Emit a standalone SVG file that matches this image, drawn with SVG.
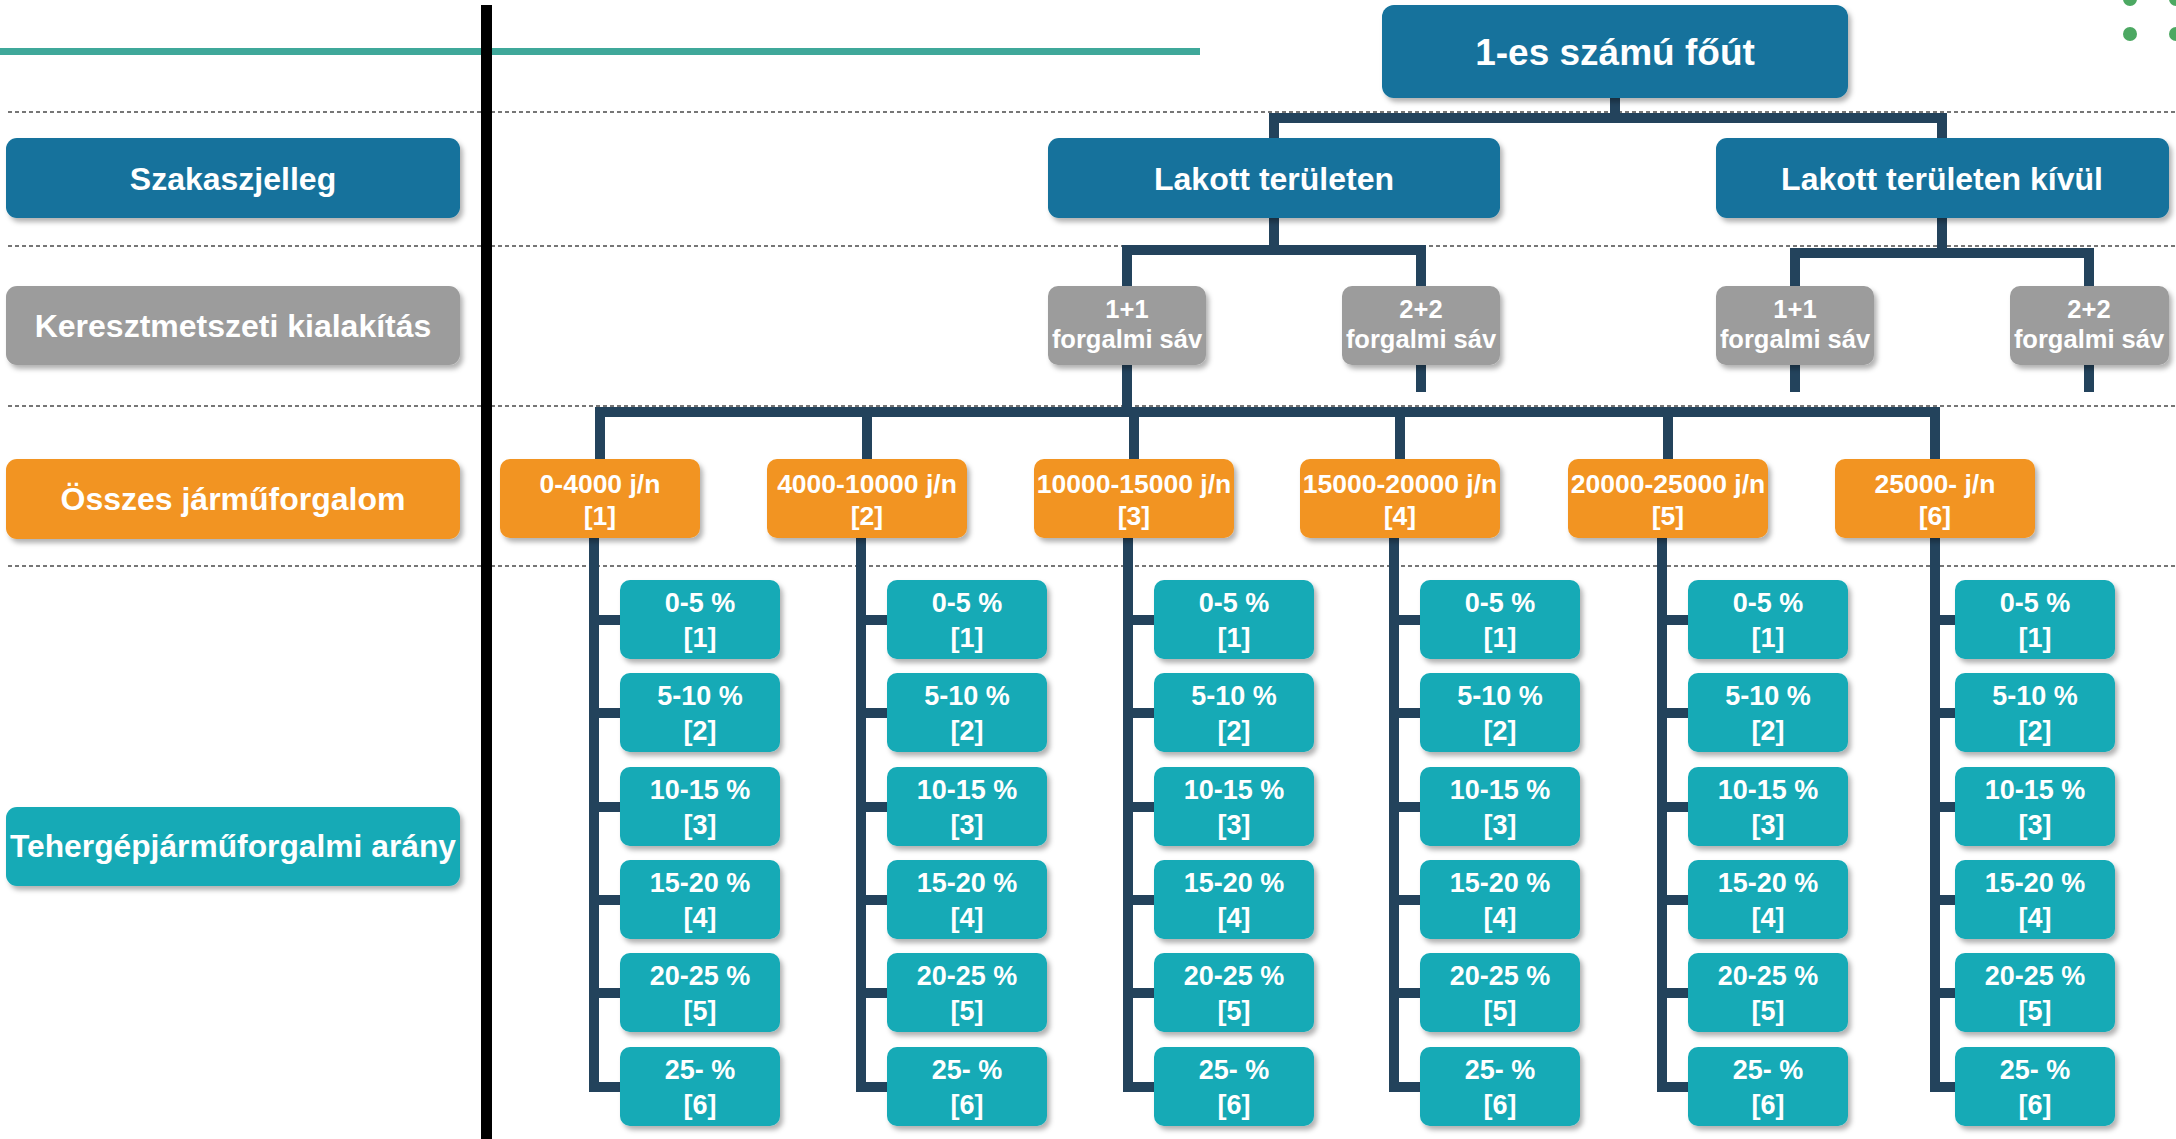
<svg xmlns="http://www.w3.org/2000/svg" width="2176" height="1139" viewBox="0 0 2176 1139">
<style>
.bg{fill:#ffffff}
.dash{stroke:#4a4a4a;stroke-width:1.5;stroke-dasharray:4 3;fill:none}
.conn{stroke:#23435C;stroke-width:10;fill:none;stroke-linecap:butt;stroke-linejoin:miter}
.blue{fill:#12729C;filter:url(#sh)}
.gray{fill:#9C9C9C;filter:url(#sh)}
.orange{fill:#F29420;filter:url(#sh)}
.teal{fill:#14AAB6;filter:url(#sh)}
text{font-family:"Liberation Sans",Arial,sans-serif;font-weight:bold;fill:#ffffff;text-anchor:middle}
.lbl{font-size:32px}
.top{font-size:37px}
.g{font-size:25.5px}
.o{font-size:26.5px}
.t{font-size:27px}
.dot{fill:#4CA862}
</style>
<defs>
<filter id="sh" x="-10%" y="-20%" width="125%" height="150%">
<feDropShadow dx="3" dy="4" stdDeviation="2.5" flood-color="#000" flood-opacity="0.3"/>
</filter>
</defs>
<rect class="bg" x="0" y="0" width="2176" height="1139"/>
<g id="decor">
<line class="dash" x1="8" y1="112" x2="2176" y2="112"/>
<line class="dash" x1="8" y1="246" x2="2176" y2="246"/>
<line class="dash" x1="8" y1="406" x2="2176" y2="406"/>
<line class="dash" x1="8" y1="566" x2="2176" y2="566"/>
<rect x="0" y="48" width="1200" height="7" fill="#3FA89A"/>
<rect x="481" y="5" width="11" height="1134" fill="#000000"/>
<circle class="dot" cx="2130" cy="-1" r="7"/>
<circle class="dot" cx="2176" cy="-1" r="7"/>
<circle class="dot" cx="2130" cy="34" r="7"/>
<circle class="dot" cx="2176" cy="34" r="7"/>
</g>
<g id="connectors">
<path class="conn" d="M1615 98 V118"/>
<path class="conn" d="M1274 138 V118 H1942 V138"/>
<path class="conn" d="M1274 218 V250"/>
<path class="conn" d="M1127 286 V250 H1421 V286"/>
<path class="conn" d="M1942 218 V253"/>
<path class="conn" d="M1795 286 V253 H2089 V286"/>
<path class="conn" d="M1421 365 V392 M1795 365 V392 M2089 365 V392"/>
<path class="conn" d="M1127 365 V412"/>
<path class="conn" d="M595 412 H1940"/>
<path class="conn" d="M600 412 V459 M867 412 V459 M1134 412 V459 M1400 412 V459 M1668 412 V459 M1935 412 V459"/>
<path class="conn" d="M594 538 V1087 H620 M594 620 H620 M594 713 H620 M594 807 H620 M594 900 H620 M594 993 H620"/>
<path class="conn" d="M861 538 V1087 H887 M861 620 H887 M861 713 H887 M861 807 H887 M861 900 H887 M861 993 H887"/>
<path class="conn" d="M1128 538 V1087 H1154 M1128 620 H1154 M1128 713 H1154 M1128 807 H1154 M1128 900 H1154 M1128 993 H1154"/>
<path class="conn" d="M1394 538 V1087 H1420 M1394 620 H1420 M1394 713 H1420 M1394 807 H1420 M1394 900 H1420 M1394 993 H1420"/>
<path class="conn" d="M1662 538 V1087 H1688 M1662 620 H1688 M1662 713 H1688 M1662 807 H1688 M1662 900 H1688 M1662 993 H1688"/>
<path class="conn" d="M1935 538 V1087 H1955 M1935 620 H1955 M1935 713 H1955 M1935 807 H1955 M1935 900 H1955 M1935 993 H1955"/>
</g>
<g id="legend-szakasz"><rect class="blue" x="6" y="138" width="454" height="80" rx="11"/><text class="lbl" x="233" y="190">Szakaszjelleg</text></g>
<g id="legend-kereszt"><rect class="gray" x="6" y="286" width="454" height="79" rx="11"/><text class="lbl" x="233" y="337">Keresztmetszeti kialakítás</text></g>
<g id="legend-osszes"><rect class="orange" x="6" y="459" width="454" height="80" rx="11"/><text class="lbl" x="233" y="510">Összes járműforgalom</text></g>
<g id="legend-teher"><rect class="teal" x="6" y="807" width="454" height="79" rx="11"/><text class="lbl" x="233" y="857" textLength="446" lengthAdjust="spacingAndGlyphs">Tehergépjárműforgalmi arány</text></g>
<g id="root"><rect class="blue" x="1382" y="5" width="466" height="93" rx="12"/><text class="top" x="1615" y="65">1-es számú főút</text></g>
<g id="lakott"><rect class="blue" x="1048" y="138" width="452" height="80" rx="11"/><text class="lbl" x="1274" y="190">Lakott területen</text></g>
<g id="kivul"><rect class="blue" x="1716" y="138" width="453" height="80" rx="11"/><text class="lbl" x="1942" y="190">Lakott területen kívül</text></g>
<g id="lakott-11"><rect class="gray" x="1048" y="286" width="158" height="79" rx="10"/><text class="g" x="1127" y="318">1+1</text><text class="g" x="1127" y="348">forgalmi sáv</text></g>
<g id="lakott-22"><rect class="gray" x="1342" y="286" width="158" height="79" rx="10"/><text class="g" x="1421" y="318">2+2</text><text class="g" x="1421" y="348">forgalmi sáv</text></g>
<g id="kivul-11"><rect class="gray" x="1716" y="286" width="158" height="79" rx="10"/><text class="g" x="1795" y="318">1+1</text><text class="g" x="1795" y="348">forgalmi sáv</text></g>
<g id="kivul-22"><rect class="gray" x="2010" y="286" width="159" height="79" rx="10"/><text class="g" x="2089" y="318">2+2</text><text class="g" x="2089" y="348">forgalmi sáv</text></g>
<g id="o1"><rect class="orange" x="500" y="459" width="200" height="79" rx="10"/><text class="o" x="600" y="493">0-4000 j/n</text><text class="o" x="600" y="525">[1]</text></g>
<g id="o2"><rect class="orange" x="767" y="459" width="200" height="79" rx="10"/><text class="o" x="867" y="493">4000-10000 j/n</text><text class="o" x="867" y="525">[2]</text></g>
<g id="o3"><rect class="orange" x="1034" y="459" width="200" height="79" rx="10"/><text class="o" x="1134" y="493">10000-15000 j/n</text><text class="o" x="1134" y="525">[3]</text></g>
<g id="o4"><rect class="orange" x="1300" y="459" width="200" height="79" rx="10"/><text class="o" x="1400" y="493">15000-20000 j/n</text><text class="o" x="1400" y="525">[4]</text></g>
<g id="o5"><rect class="orange" x="1568" y="459" width="200" height="79" rx="10"/><text class="o" x="1668" y="493">20000-25000 j/n</text><text class="o" x="1668" y="525">[5]</text></g>
<g id="o6"><rect class="orange" x="1835" y="459" width="200" height="79" rx="10"/><text class="o" x="1935" y="493">25000- j/n</text><text class="o" x="1935" y="525">[6]</text></g>
<g id="c1">
<g id="c1-1"><rect class="teal" x="620" y="580" width="160" height="79" rx="10"/><text class="t" x="700" y="612">0-5 %</text><text class="t" x="700" y="647">[1]</text></g>
<g id="c1-2"><rect class="teal" x="620" y="673" width="160" height="79" rx="10"/><text class="t" x="700" y="705">5-10 %</text><text class="t" x="700" y="740">[2]</text></g>
<g id="c1-3"><rect class="teal" x="620" y="767" width="160" height="79" rx="10"/><text class="t" x="700" y="799">10-15 %</text><text class="t" x="700" y="834">[3]</text></g>
<g id="c1-4"><rect class="teal" x="620" y="860" width="160" height="79" rx="10"/><text class="t" x="700" y="892">15-20 %</text><text class="t" x="700" y="927">[4]</text></g>
<g id="c1-5"><rect class="teal" x="620" y="953" width="160" height="79" rx="10"/><text class="t" x="700" y="985">20-25 %</text><text class="t" x="700" y="1020">[5]</text></g>
<g id="c1-6"><rect class="teal" x="620" y="1047" width="160" height="79" rx="10"/><text class="t" x="700" y="1079">25- %</text><text class="t" x="700" y="1114">[6]</text></g>
</g>
<g id="c2">
<g id="c2-1"><rect class="teal" x="887" y="580" width="160" height="79" rx="10"/><text class="t" x="967" y="612">0-5 %</text><text class="t" x="967" y="647">[1]</text></g>
<g id="c2-2"><rect class="teal" x="887" y="673" width="160" height="79" rx="10"/><text class="t" x="967" y="705">5-10 %</text><text class="t" x="967" y="740">[2]</text></g>
<g id="c2-3"><rect class="teal" x="887" y="767" width="160" height="79" rx="10"/><text class="t" x="967" y="799">10-15 %</text><text class="t" x="967" y="834">[3]</text></g>
<g id="c2-4"><rect class="teal" x="887" y="860" width="160" height="79" rx="10"/><text class="t" x="967" y="892">15-20 %</text><text class="t" x="967" y="927">[4]</text></g>
<g id="c2-5"><rect class="teal" x="887" y="953" width="160" height="79" rx="10"/><text class="t" x="967" y="985">20-25 %</text><text class="t" x="967" y="1020">[5]</text></g>
<g id="c2-6"><rect class="teal" x="887" y="1047" width="160" height="79" rx="10"/><text class="t" x="967" y="1079">25- %</text><text class="t" x="967" y="1114">[6]</text></g>
</g>
<g id="c3">
<g id="c3-1"><rect class="teal" x="1154" y="580" width="160" height="79" rx="10"/><text class="t" x="1234" y="612">0-5 %</text><text class="t" x="1234" y="647">[1]</text></g>
<g id="c3-2"><rect class="teal" x="1154" y="673" width="160" height="79" rx="10"/><text class="t" x="1234" y="705">5-10 %</text><text class="t" x="1234" y="740">[2]</text></g>
<g id="c3-3"><rect class="teal" x="1154" y="767" width="160" height="79" rx="10"/><text class="t" x="1234" y="799">10-15 %</text><text class="t" x="1234" y="834">[3]</text></g>
<g id="c3-4"><rect class="teal" x="1154" y="860" width="160" height="79" rx="10"/><text class="t" x="1234" y="892">15-20 %</text><text class="t" x="1234" y="927">[4]</text></g>
<g id="c3-5"><rect class="teal" x="1154" y="953" width="160" height="79" rx="10"/><text class="t" x="1234" y="985">20-25 %</text><text class="t" x="1234" y="1020">[5]</text></g>
<g id="c3-6"><rect class="teal" x="1154" y="1047" width="160" height="79" rx="10"/><text class="t" x="1234" y="1079">25- %</text><text class="t" x="1234" y="1114">[6]</text></g>
</g>
<g id="c4">
<g id="c4-1"><rect class="teal" x="1420" y="580" width="160" height="79" rx="10"/><text class="t" x="1500" y="612">0-5 %</text><text class="t" x="1500" y="647">[1]</text></g>
<g id="c4-2"><rect class="teal" x="1420" y="673" width="160" height="79" rx="10"/><text class="t" x="1500" y="705">5-10 %</text><text class="t" x="1500" y="740">[2]</text></g>
<g id="c4-3"><rect class="teal" x="1420" y="767" width="160" height="79" rx="10"/><text class="t" x="1500" y="799">10-15 %</text><text class="t" x="1500" y="834">[3]</text></g>
<g id="c4-4"><rect class="teal" x="1420" y="860" width="160" height="79" rx="10"/><text class="t" x="1500" y="892">15-20 %</text><text class="t" x="1500" y="927">[4]</text></g>
<g id="c4-5"><rect class="teal" x="1420" y="953" width="160" height="79" rx="10"/><text class="t" x="1500" y="985">20-25 %</text><text class="t" x="1500" y="1020">[5]</text></g>
<g id="c4-6"><rect class="teal" x="1420" y="1047" width="160" height="79" rx="10"/><text class="t" x="1500" y="1079">25- %</text><text class="t" x="1500" y="1114">[6]</text></g>
</g>
<g id="c5">
<g id="c5-1"><rect class="teal" x="1688" y="580" width="160" height="79" rx="10"/><text class="t" x="1768" y="612">0-5 %</text><text class="t" x="1768" y="647">[1]</text></g>
<g id="c5-2"><rect class="teal" x="1688" y="673" width="160" height="79" rx="10"/><text class="t" x="1768" y="705">5-10 %</text><text class="t" x="1768" y="740">[2]</text></g>
<g id="c5-3"><rect class="teal" x="1688" y="767" width="160" height="79" rx="10"/><text class="t" x="1768" y="799">10-15 %</text><text class="t" x="1768" y="834">[3]</text></g>
<g id="c5-4"><rect class="teal" x="1688" y="860" width="160" height="79" rx="10"/><text class="t" x="1768" y="892">15-20 %</text><text class="t" x="1768" y="927">[4]</text></g>
<g id="c5-5"><rect class="teal" x="1688" y="953" width="160" height="79" rx="10"/><text class="t" x="1768" y="985">20-25 %</text><text class="t" x="1768" y="1020">[5]</text></g>
<g id="c5-6"><rect class="teal" x="1688" y="1047" width="160" height="79" rx="10"/><text class="t" x="1768" y="1079">25- %</text><text class="t" x="1768" y="1114">[6]</text></g>
</g>
<g id="c6">
<g id="c6-1"><rect class="teal" x="1955" y="580" width="160" height="79" rx="10"/><text class="t" x="2035" y="612">0-5 %</text><text class="t" x="2035" y="647">[1]</text></g>
<g id="c6-2"><rect class="teal" x="1955" y="673" width="160" height="79" rx="10"/><text class="t" x="2035" y="705">5-10 %</text><text class="t" x="2035" y="740">[2]</text></g>
<g id="c6-3"><rect class="teal" x="1955" y="767" width="160" height="79" rx="10"/><text class="t" x="2035" y="799">10-15 %</text><text class="t" x="2035" y="834">[3]</text></g>
<g id="c6-4"><rect class="teal" x="1955" y="860" width="160" height="79" rx="10"/><text class="t" x="2035" y="892">15-20 %</text><text class="t" x="2035" y="927">[4]</text></g>
<g id="c6-5"><rect class="teal" x="1955" y="953" width="160" height="79" rx="10"/><text class="t" x="2035" y="985">20-25 %</text><text class="t" x="2035" y="1020">[5]</text></g>
<g id="c6-6"><rect class="teal" x="1955" y="1047" width="160" height="79" rx="10"/><text class="t" x="2035" y="1079">25- %</text><text class="t" x="2035" y="1114">[6]</text></g>
</g>
</svg>
